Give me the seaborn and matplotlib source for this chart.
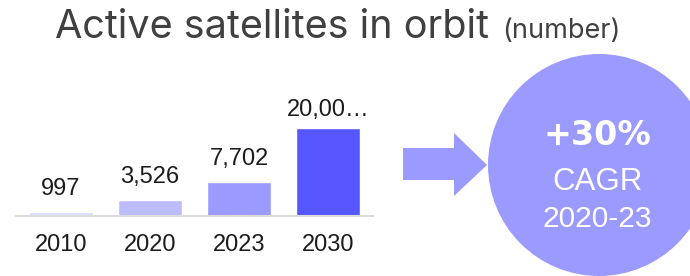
import matplotlib
matplotlib.use("Agg")
import matplotlib.pyplot as plt
import seaborn as sns
import pandas as pd
from matplotlib.patches import Circle, Polygon

# ---- data ----
years = ["2010", "2020", "2023", "2030"]
satellites = [997, 3526, 7702, 20000]
value_labels = ["997", "3,526", "7,702", "20,00…"]
bar_colors = ["#dcdcfd", "#bdbdfd", "#9b9bff", "#5757ff"]
title_main = "Active satellites in orbit"
title_unit = "(number)"
cagr_value = "+30%"
cagr_label = "CAGR"
cagr_period = "2020-23"

W, H, DPI = 690, 276, 100
sns.set_theme(style="white")
plt.rcParams['font.family'] = ['Liberation Sans', 'DejaVu Sans']

fig = plt.figure(figsize=(W / DPI, H / DPI), dpi=DPI)


def px_rect(x0, y0, x1, y1):
    return [x0 / W, 1 - y1 / H, (x1 - x0) / W, (y1 - y0) / H]


# ---- bar chart ----
ax_top, ax_bot = 90, 216
ax = fig.add_axes(px_rect(16, ax_top, 373, ax_bot))
df = pd.DataFrame({"year": years, "n": satellites})
sns.barplot(data=df, x="year", y="n", hue="year", palette=bar_colors,
            saturation=1, width=0.717, legend=False, ax=ax)
ymax = 20000 * (ax_bot - ax_top) / 88.0
ax.set_ylim(0, ymax)
ax.set_xlim(-0.5, 3.5)
sns.despine(ax=ax, left=True)
ax.spines['bottom'].set_color('#dcdcdc')
ax.spines['bottom'].set_linewidth(1.5)
ax.set_yticks([])
ax.set_xlabel('')
ax.set_ylabel('')
ax.tick_params(axis='x', length=0, pad=13, labelsize=17, labelcolor='#1c1c1c')

pad_data = 17 / 88.0 * 20000
max_label = ymax * (ax_bot - 116) / (ax_bot - ax_top)
for i, (v, lab) in enumerate(zip(satellites, value_labels)):
    ax.text(i, min(v + pad_data, max_label), lab, ha='center', va='baseline',
            fontsize=17, color='#1c1c1c')

# ---- overlay: title, arrow, circle ----
ov = fig.add_axes([0, 0, 1, 1])
ov.set_xlim(0, W)
ov.set_ylim(H, 0)
ov.axis('off')
ov.patch.set_alpha(0)

t1 = ov.text(55, 38, title_main, ha='left', va='baseline', fontsize=28.5,
             color='#404040', family=['Inter', 'DejaVu Sans'])
fig.canvas.draw()
bb = t1.get_window_extent()
ov.text(bb.x1 + 13, 38, title_unit, ha='left', va='baseline', fontsize=19.5,
        color='#404040', family=['Inter', 'DejaVu Sans'])

arrow_color = '#9b9bff'
ov.add_patch(Polygon([(403, 148), (454, 148), (454, 133), (487, 165),
                      (454, 196), (454, 180), (403, 180)],
                     closed=True, facecolor=arrow_color, edgecolor='none'))
ov.add_patch(Circle((599, 165), 111, facecolor=arrow_color, edgecolor='none',
                    clip_on=False))

ov.text(597, 145, cagr_value, ha='center', va='baseline', fontsize=24,
        fontweight='bold', color='white', family=['DejaVu Sans'])
ov.text(598, 190, cagr_label, ha='center', va='baseline', fontsize=22.5,
        color='white')
ov.text(597, 227, cagr_period, ha='center', va='baseline', fontsize=21.5,
        color='white')

fig.savefig('out.png', dpi=DPI)
